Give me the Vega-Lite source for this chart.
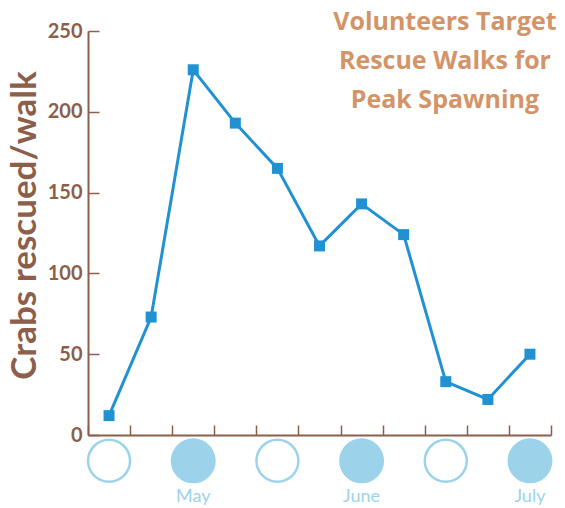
{
  "$schema": "https://vega.github.io/schema/vega-lite/v6.json",
  "width": 463,
  "height": 404,
  "autosize": {"type": "none"},
  "padding": {"left": 88, "top": 31, "right": 14, "bottom": 73},
  "background": "white",
  "config": {
    "view": {"stroke": null},
    "font": "Lato",
    "axis": {"grid": false}
  },
  "datasets": {
    "walks": [
      {"walk": 1, "crabs": 12},
      {"walk": 2, "crabs": 73},
      {"walk": 3, "crabs": 226},
      {"walk": 4, "crabs": 193},
      {"walk": 5, "crabs": 165},
      {"walk": 6, "crabs": 117},
      {"walk": 7, "crabs": 143},
      {"walk": 8, "crabs": 124},
      {"walk": 9, "crabs": 33},
      {"walk": 10, "crabs": 22},
      {"walk": 11, "crabs": 50}
    ],
    "moons": [
      {"walk": 1, "phase": "new", "month": ""},
      {"walk": 3, "phase": "full", "month": "May"},
      {"walk": 5, "phase": "new", "month": ""},
      {"walk": 7, "phase": "full", "month": "June"},
      {"walk": 9, "phase": "new", "month": ""},
      {"walk": 11, "phase": "full", "month": "July"}
    ],
    "title": [
      {"text": "Volunteers Target"}
    ]
  },
  "layer": [
    {
      "data": {"name": "walks"},
      "mark": {"type": "line", "color": "#2191d1", "strokeWidth": 3},
      "encoding": {
        "x": {
          "field": "walk", "type": "quantitative",
          "scale": {"domain": [0.5, 11.5], "nice": false, "zero": false},
          "axis": {
            "title": null, "labels": false,
            "values": [0.5, 1.5, 2.5, 3.5, 4.5, 5.5, 6.5, 7.5, 8.5, 9.5, 10.5, 11.5],
            "domainColor": "#8b5f4b", "domainWidth": 2,
            "tickColor": "#8b5f4b", "tickWidth": 1.5, "tickSize": -10
          }
        },
        "y": {
          "field": "crabs", "type": "quantitative",
          "scale": {"domain": [0, 250], "nice": false},
          "axis": {
            "title": "Crabs rescued/walk",
            "values": [0, 50, 100, 150, 200, 250],
            "domainColor": "#8b5f4b", "domainWidth": 2,
            "tickColor": "#8b5f4b", "tickWidth": 1.5, "tickSize": -11,
            "labelColor": "#8b5f4b", "labelFont": "Lato", "labelFontWeight": "bold",
            "labelFontSize": 20, "labelPadding": 17,
            "titleColor": "#8b5f4b", "titleFont": "Lato", "titleFontWeight": "bold",
            "titleFontSize": 35, "titlePadding": 5, "titleY": 194
          }
        }
      }
    },
    {
      "data": {"name": "walks"},
      "mark": {"type": "square", "color": "#2191d1", "size": 121, "opacity": 1},
      "encoding": {
        "x": {"field": "walk", "type": "quantitative"},
        "y": {"field": "crabs", "type": "quantitative"}
      }
    },
    {
      "data": {"name": "moons"},
      "transform": [{"filter": "datum.phase == 'new'"}],
      "mark": {"type": "point", "shape": "circle", "filled": false, "stroke": "#9dd3ea", "strokeWidth": 2.5, "size": 1764, "opacity": 1},
      "encoding": {
        "x": {"field": "walk", "type": "quantitative"},
        "y": {"datum": -16, "type": "quantitative", "title": null}
      }
    },
    {
      "data": {"name": "moons"},
      "transform": [{"filter": "datum.phase == 'full'"}],
      "mark": {"type": "point", "shape": "circle", "filled": true, "fill": "#9dd3ea", "size": 2025, "opacity": 1},
      "encoding": {
        "x": {"field": "walk", "type": "quantitative"},
        "y": {"datum": -16, "type": "quantitative", "title": null}
      }
    },
    {
      "data": {"name": "moons"},
      "mark": {"type": "text", "color": "#9dd3ea", "font": "Lato", "fontSize": 18, "baseline": "alphabetic", "align": "center"},
      "encoding": {
        "x": {"field": "walk", "type": "quantitative"},
        "y": {"datum": -41.5, "type": "quantitative", "title": null},
        "text": {"field": "month"}
      }
    },
    {
      "data": {"name": "title"},
      "mark": {"type": "text", "color": "#d39468", "font": "Open Sans", "fontWeight": "bold", "fontSize": 25, "baseline": "alphabetic", "align": "center", "lineHeight": 39},
      "encoding": {
        "x": {"datum": 8.98, "type": "quantitative", "title": null},
        "y": {"datum": 250.6, "type": "quantitative", "title": null},
        "text": {"value": ["Volunteers Target", "Rescue Walks for", "Peak Spawning"]}
      }
    }
  ]
}
